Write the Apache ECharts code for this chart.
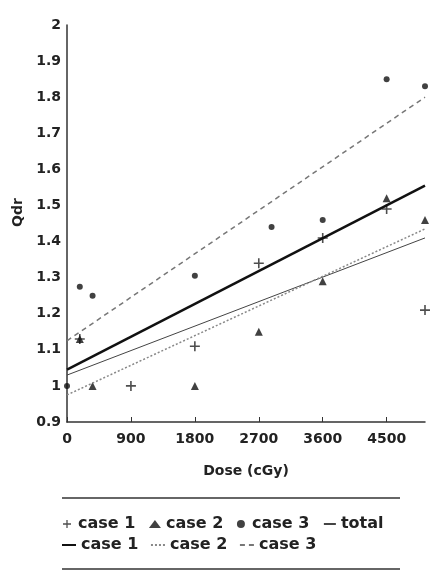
<!DOCTYPE html>
<html>
<head>
<meta charset="utf-8">
<script src="https://cdn.jsdelivr.net/npm/echarts@6/dist/echarts.min.js"></script>
<style>
  html, body { margin: 0; padding: 0; background: #fff; }
  #dom { width: 431px; height: 577px; }
</style>
</head>
<body>
<div id="dom"></div>
<script>
// measured points, [dose cGy, Qdr]
var case1Pts = [[180, 1.13], [900, 1.0], [1800, 1.11], [2700, 1.34], [3600, 1.41], [4500, 1.49], [5040, 1.21]]
var case2Pts = [[180, 1.13], [360, 1.0], [1800, 1.0], [2700, 1.15], [3600, 1.29], [4500, 1.52], [5040, 1.46]]
var case3Pts = [[0, 1.0], [180, 1.275], [360, 1.25], [1800, 1.305], [2880, 1.44], [3600, 1.46], [4500, 1.85], [5040, 1.83]]

// regression lines, start / end
var totalFit = [[0, 1.03], [5040, 1.41]]
var case1Fit = [[0, 1.045], [5040, 1.555]]
var case2Fit = [[0, 0.975], [5040, 1.435]]
var case3Fit = [[0, 1.125], [5040, 1.80]]

var xTicks = { min: 0, max: 5040, step: 900 }
var yTicks = { min: 0.9, max: 2, step: 0.1 }

var font = 'DejaVu Sans'
var plus = 'path://M4.2,0 L5.8,0 L5.8,4.2 L10,4.2 L10,5.8 L5.8,5.8 L5.8,10 L4.2,10 L4.2,5.8 L0,5.8 L0,4.2 L4.2,4.2 Z'
var noSymbol = { opacity: 0 }

var dom = echarts.init(document.getElementById('dom'))
var option = {
  animation: false,
  backgroundColor: '#fff',
  grid: { left: 67, right: 6, top: 25, bottom: 155 },
  xAxis: {
    type: 'value',
    min: xTicks.min,
    max: xTicks.max,
    interval: xTicks.step,
    name: 'Dose (cGy)',
    nameLocation: 'middle',
    nameGap: 42,
    nameTextStyle: { fontFamily: font, fontWeight: 'bold', fontSize: 14, color: '#222' },
    axisLine: { lineStyle: { color: '#333', width: 1.5 } },
    axisTick: { inside: true, length: 5, lineStyle: { color: '#333' } },
    axisLabel: {
      showMaxLabel: false,
      margin: 10,
      fontFamily: font,
      fontWeight: 'bold',
      fontSize: 14,
      color: '#222',
      formatter: function (v) { return String(v) }
    },
    splitLine: { show: false }
  },
  yAxis: {
    type: 'value',
    min: yTicks.min,
    max: yTicks.max,
    interval: yTicks.step,
    name: 'Qdr',
    nameLocation: 'middle',
    nameGap: 38,
    nameTextStyle: { fontFamily: font, fontWeight: 'bold', fontSize: 14, color: '#222', padding: [0, 0, 0, 22] },
    axisLine: { show: true, lineStyle: { color: '#333', width: 1.5 } },
    axisTick: { show: false },
    axisLabel: { margin: 6, fontFamily: font, fontWeight: 'bold', fontSize: 14, color: '#222' },
    splitLine: { show: false }
  },
  legend: [
    {
      left: 58,
      top: 511,
      itemWidth: 12,
      itemHeight: 8,
      itemGap: 13.6,
      textStyle: { fontFamily: font, fontWeight: 'bold', fontSize: 16, color: '#222' },
      data: ['case 1', 'case 2', 'case 3', { name: 'total', itemStyle: noSymbol }]
    },
    {
      left: 56,
      top: 532,
      itemWidth: 14,
      itemHeight: 8,
      itemGap: 11.6,
      itemStyle: noSymbol,
      textStyle: { fontFamily: font, fontWeight: 'bold', fontSize: 16, color: '#222' },
      formatter: function (name) { return name.replace(' fit', '') },
      data: ['case 1 fit', 'case 2 fit', 'case 3 fit']
    }
  ],
  graphic: [
    { type: 'line', shape: { x1: 62, y1: 498, x2: 400, y2: 498 }, style: { stroke: '#333', lineWidth: 1.5 } },
    { type: 'line', shape: { x1: 62, y1: 569, x2: 400, y2: 569 }, style: { stroke: '#333', lineWidth: 1.5 } }
  ],
  series: [
    { name: 'case 1', type: 'scatter', symbol: plus, symbolSize: 10, itemStyle: { color: '#222' }, data: case1Pts },
    { name: 'case 2', type: 'scatter', symbol: 'triangle', symbolSize: 8, itemStyle: { color: '#111' }, data: case2Pts },
    { name: 'case 3', type: 'scatter', symbol: 'circle', symbolSize: 6, itemStyle: { color: '#111' }, data: case3Pts },
    { name: 'total', type: 'line', symbol: 'none', lineStyle: { color: '#444', width: 1 }, itemStyle: { color: '#444' }, data: totalFit },
    { name: 'case 1 fit', type: 'line', symbol: 'none', lineStyle: { color: '#111', width: 2.5 }, itemStyle: { color: '#111' }, data: case1Fit },
    { name: 'case 2 fit', type: 'line', symbol: 'none', lineStyle: { color: '#888', width: 1.5, type: [2, 2] }, itemStyle: { color: '#888' }, data: case2Fit },
    { name: 'case 3 fit', type: 'line', symbol: 'none', lineStyle: { color: '#777', width: 1.5, type: [5, 4] }, itemStyle: { color: '#777' }, data: case3Fit }
  ]
}
dom.setOption(option)
</script>
</body>
</html>
